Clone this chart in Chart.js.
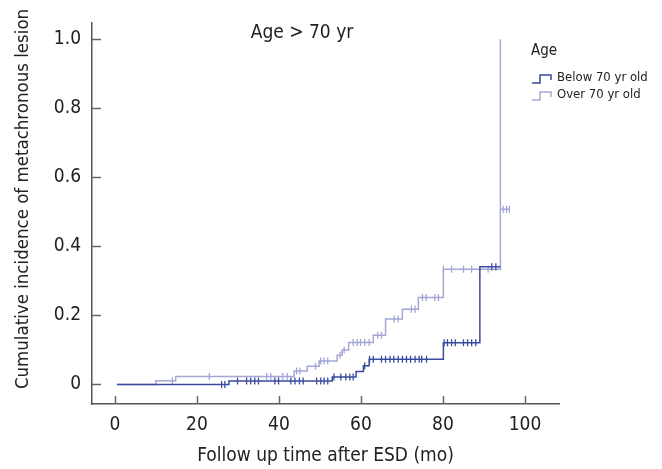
<!DOCTYPE html>
<html>
<head>
<meta charset="utf-8">
<script src="https://cdn.jsdelivr.net/npm/chart.js@4"></script>
<style>
  html, body { margin: 0; padding: 0; background: #fff; }
</style>
</head>
<body>
<canvas id="chart" width="662" height="469"></canvas>
<script>
const FONT = '"Liberation Sans Narrow", "DejaVu Sans Condensed", "Arial Narrow", sans-serif';
const DARK = "#3b4b9d";
const LIGHT = "#a4a6d6";

const xTicks = [0, 20, 40, 60, 80, 100];
const yTicks = [0, 0.2, 0.4, 0.6, 0.8, 1.0];

// below 70 yr old: step times and cumulative incidence after each step
const belowTimes = [0.5, 27.8, 53.0, 58.8, 60.6, 62.0, 80.1, 89.0, 94.0];
const belowCum = [0, 0.01, 0.022, 0.038, 0.054, 0.073, 0.121, 0.341, 0.341];
const belowCensor = [26, 26.8, 29.9, 32.1, 33.1, 34.1, 35, 39, 39.9, 42.9, 43.9, 45, 45.9,
  49.2, 50.2, 51, 51.9, 53.4, 55.1, 56.3, 57.3, 58.1, 60.9, 62.1, 63, 65, 66, 67.1, 68,
  69.1, 70.1, 71.1, 72.1, 73.2, 74.2, 74.8, 76, 80.3, 81.1, 82.1, 83, 85, 86, 87, 88, 91.9, 92.9];

// over 70 yr old
const overTimes = [0.5, 10, 14.8, 43.7, 46.9, 49.8, 54.2, 55.4, 57.0, 63.0, 66.0, 70.1, 74.0, 80.1, 94.0, 96.3];
const overCum = [0, 0.011, 0.023, 0.039, 0.053, 0.068, 0.085, 0.1, 0.122, 0.143, 0.19, 0.218, 0.252, 0.334, 0.508, 0.508];
const overSpike = [94.0, 1.0];
const overCensor = [14, 23, 37, 38, 40.9, 42, 44.3, 45.1, 48.9, 50.2, 51, 51.9, 54.9, 55.9,
  58.1, 59.1, 59.9, 60.9, 62, 64.1, 65, 68.1, 69.1, 72.3, 73.2, 75, 75.9, 78, 78.9, 80.1,
  82.1, 85, 87, 91, 94.7, 95.5, 96.2];

function levelAt(times, cum, x) {
  let v = cum[0];
  for (let i = 0; i < times.length; i++) if (times[i] <= x) v = cum[i];
  return v;
}

const belowLine = belowTimes.map((t, i) => ({ x: t, y: belowCum[i] }));
const overLine = overTimes.map((t, i) => ({ x: t, y: overCum[i] }));
// vertical jump to 1.0 drawn as a separate piece after a gap
overLine.push({ x: overSpike[0], y: null });
overLine.push({ x: overSpike[0], y: levelAt(overTimes, overCum, overSpike[0]) });
overLine.push({ x: overSpike[0], y: overSpike[1] });

const belowMarks = belowCensor.map((x) => ({ x: x, y: levelAt(belowTimes, belowCum, x) }));
const overMarks = overCensor.map((x) => ({ x: x, y: levelAt(overTimes, overCum, x) }));

const extras = {
  id: "extras",
  afterDraw(chart) {
    const ctx = chart.ctx;
    const xs = chart.scales.x;
    const ys = chart.scales.y;
    const area = chart.chartArea;
    ctx.save();
    // inward ticks
    ctx.strokeStyle = "#666";
    ctx.lineWidth = 1.5;
    xTicks.forEach((v) => {
      const px = Math.round(xs.getPixelForValue(v)) + 0.5;
      ctx.beginPath();
      ctx.moveTo(px, area.bottom);
      ctx.lineTo(px, area.bottom - 8);
      ctx.stroke();
    });
    yTicks.forEach((v) => {
      const py = Math.round(ys.getPixelForValue(v)) + 0.5;
      ctx.beginPath();
      ctx.moveTo(area.left, py);
      ctx.lineTo(area.left + 9, py);
      ctx.stroke();
    });
    ctx.fillStyle = "#222";
    ctx.textBaseline = "middle";
    ctx.textAlign = "center";
    // y axis title
    ctx.save();
    ctx.translate(23, 199);
    ctx.rotate(-Math.PI / 2);
    ctx.font = "18.5px " + FONT;
    ctx.fillText("Cumulative incidence of metachronous lesion", 0, 0);
    ctx.restore();
    // annotation
    ctx.font = "19px " + FONT;
    ctx.fillText("Age > 70 yr", 302, 33);
    // legend
    ctx.textAlign = "left";
    ctx.font = "15px " + FONT;
    ctx.fillText("Age", 531, 51);
    ctx.font = "13px " + FONT;
    const rows = [["Below 70 yr old", DARK, 78], ["Over 70 yr old", LIGHT, 95]];
    rows.forEach(([label, color, y]) => {
      ctx.strokeStyle = color;
      ctx.lineWidth = 1.5;
      ctx.beginPath();
      ctx.moveTo(532, y + 5);
      ctx.lineTo(540, y + 5);
      ctx.lineTo(540, y - 3);
      ctx.lineTo(551, y - 3);
      ctx.lineTo(551, y + 2);
      ctx.stroke();
      ctx.fillText(label, 557, y);
    });
    ctx.restore();
  }
};

new Chart(document.getElementById("chart"), {
  type: "line",
  data: {
    datasets: [
      { data: belowLine, borderColor: DARK, borderWidth: 1.5, stepped: "before", pointRadius: 0, fill: false },
      { data: belowMarks, showLine: false, pointStyle: "line", rotation: 90, pointRadius: 3.5, borderColor: DARK, pointBorderWidth: 1.3 },
      { data: overLine, borderColor: LIGHT, borderWidth: 1.5, stepped: "before", pointRadius: 0, fill: false, spanGaps: false },
      { data: overMarks, showLine: false, pointStyle: "line", rotation: 90, pointRadius: 3.5, borderColor: LIGHT, pointBorderWidth: 1.3 }
    ]
  },
  options: {
    responsive: false,
    animation: false,
    devicePixelRatio: 1,
    layout: { padding: { top: 13, right: 103, left: 0, bottom: 0 } },
    plugins: { legend: { display: false }, tooltip: { enabled: false } },
    scales: {
      x: {
        type: "linear",
        min: -5.6,
        max: 108.3,
        afterBuildTicks: (s) => { s.ticks = xTicks.map((v) => ({ value: v })); },
        afterFit: (s) => { s.height = 65; },
        ticks: { font: { family: FONT, size: 19 }, color: "#222", padding: 10, maxRotation: 0, autoSkip: false },
        grid: { display: true, drawOnChartArea: false, drawTicks: false },
        border: { color: "#555", width: 1.5 },
        title: { display: true, text: "Follow up time after ESD (mo)", font: { family: FONT, size: 19 }, color: "#222", padding: { top: 0, bottom: 2 } }
      },
      y: {
        type: "linear",
        min: -0.0565,
        max: 1.049,
        afterBuildTicks: (s) => { s.ticks = yTicks.map((v) => ({ value: v })); },
        afterFit: (s) => { s.width = 92; },
        ticks: {
          font: { family: FONT, size: 19 }, color: "#222", padding: 11, autoSkip: false,
          callback: (v) => (v === 0 ? "0" : v.toFixed(1))
        },
        grid: { display: true, drawOnChartArea: false, drawTicks: false },
        border: { color: "#555", width: 1.5 }
      }
    }
  },
  plugins: [extras]
});
</script>
</body>
</html>
